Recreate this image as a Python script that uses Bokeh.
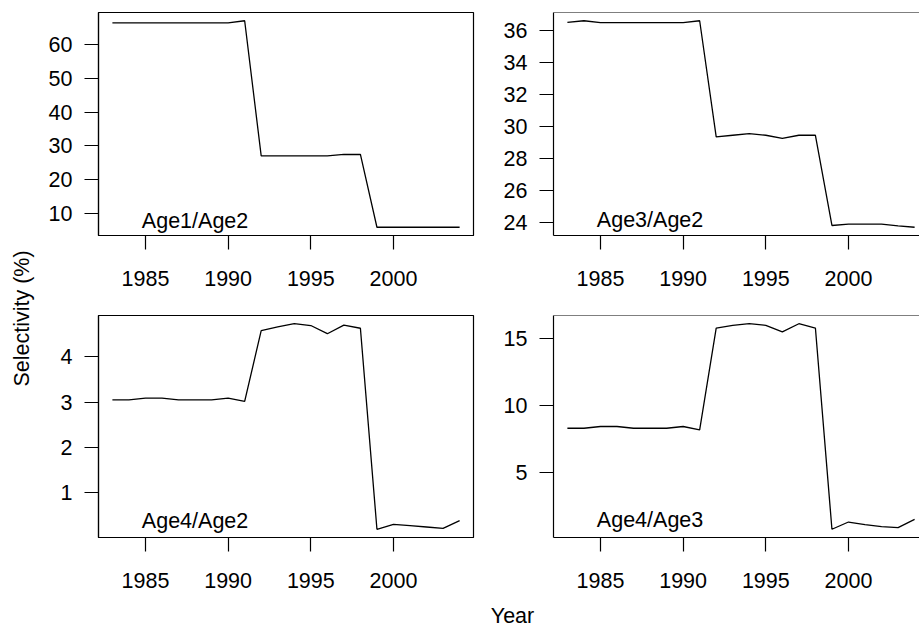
import math
from bokeh.plotting import figure
from bokeh.layouts import row, column
from bokeh.models import Range1d, FixedTicker, Label, Span
from bokeh.embed import file_html
from bokeh.resources import INLINE

# ---------------- data ----------------
years = [1983, 1984, 1985, 1986, 1987, 1988, 1989, 1990, 1991, 1992, 1993,
         1994, 1995, 1996, 1997, 1998, 1999, 2000, 2001, 2002, 2003, 2004]
age1_age2 = [66.3, 66.3, 66.3, 66.3, 66.3, 66.3, 66.3, 66.3, 66.9, 27.1, 27.1,
             27.1, 27.1, 27.1, 27.5, 27.5, 6.06, 6.06, 6.06, 6.06, 6.06, 6.06]
age3_age2 = [36.52, 36.62, 36.5, 36.5, 36.5, 36.5, 36.5, 36.5, 36.62, 29.35, 29.45,
             29.55, 29.45, 29.25, 29.45, 29.45, 23.8, 23.88, 23.88, 23.88, 23.78, 23.69]
age4_age2 = [3.05, 3.05, 3.09, 3.09, 3.05, 3.05, 3.05, 3.09, 3.02, 4.58, 4.66,
             4.73, 4.69, 4.51, 4.70, 4.63, 0.20, 0.31, 0.28, 0.25, 0.22, 0.39]
age4_age3 = [8.33, 8.33, 8.46, 8.46, 8.33, 8.33, 8.33, 8.46, 8.21, 15.79, 15.99,
             16.11, 15.99, 15.5, 16.11, 15.79, 0.81, 1.35, 1.15, 1.0, 0.93, 1.55]

panel_names = ["Age1/Age2", "Age3/Age2", "Age4/Age2", "Age4/Age3"]
x_ticks = [1985, 1990, 1995, 2000]
y_ticks_1 = [10, 20, 30, 40, 50, 60]
y_ticks_2 = [24, 26, 28, 30, 32, 34, 36]
y_ticks_3 = [1, 2, 3, 4]
y_ticks_4 = [5, 10, 15]
label_x = 1988
label_y = [8.0, 24.15, 0.38, 1.47]
y_title = "Selectivity (%)"
x_title = "Year"

FONT = "Liberation Sans"
FS = "21.5px"
LW = 1.2


def r_range(vals, frac=0.04):
    lo, hi = min(vals), max(vals)
    pad = (hi - lo) * frac
    return lo - pad, hi + pad


def make_panel(vals, yticks, name, ly, right_side, top_row):
    x0, x1 = r_range(years)
    full_w = 375
    if right_side:
        fw = 366
        x1 = x0 + (x1 - x0) * fw / full_w
        mbl, mbr = 75, 0
    else:
        fw = full_w
        mbl, mbr = 60, 5
    if top_row:
        fh, mbt, mbb = 223, 12, 75
    else:
        fh, mbt, mbb = 222, 5, 60
    y0, y1 = r_range(vals)
    p = figure(frame_width=fw, frame_height=fh,
               min_border_left=mbl, min_border_right=mbr,
               min_border_top=mbt, min_border_bottom=mbb,
               x_range=Range1d(x0, x1), y_range=Range1d(y0, y1),
               output_backend="svg", toolbar_location=None,
               background_fill_color="white", border_fill_color="white")
    p.grid.visible = False
    if right_side:
        p.outline_line_color = None
        p.add_layout(Span(location=y1, dimension="width", line_color="black",
                          line_width=LW))
    else:
        p.outline_line_color = "black"
        p.outline_line_width = LW
        p.outline_line_alpha = 1.0
    p.xaxis.ticker = FixedTicker(ticks=x_ticks)
    p.yaxis.ticker = FixedTicker(ticks=yticks)
    for ax in (p.xaxis[0], p.yaxis[0]):
        ax.major_tick_in = 0
        ax.major_tick_out = 14
        ax.minor_tick_line_color = None
        ax.major_tick_line_color = "black"
        ax.major_tick_line_width = LW
        ax.axis_line_color = "black"
        ax.axis_line_width = LW
        ax.major_label_text_font = FONT
        ax.major_label_text_font_size = FS
        ax.major_label_text_color = "black"
    p.xaxis.major_label_standoff = 21
    p.yaxis.major_label_standoff = 12
    p.line(years, vals, line_color="black", line_width=1.3)
    p.add_layout(Label(x=label_x, y=ly, text=name, text_align="center",
                       text_baseline="alphabetic", text_font=FONT,
                       text_font_size=FS, text_color="black"))
    return p


p1 = make_panel(age1_age2, y_ticks_1, panel_names[0], label_y[0], False, True)
p2 = make_panel(age3_age2, y_ticks_2, panel_names[1], label_y[1], True, True)
p3 = make_panel(age4_age2, y_ticks_3, panel_names[2], label_y[2], False, False)
p4 = make_panel(age4_age3, y_ticks_4, panel_names[3], label_y[3], True, False)

# outer y title
ylab = figure(width=38, height=633, x_range=Range1d(0, 38), y_range=Range1d(0, 633),
              min_border=0, x_axis_location=None, y_axis_location=None,
              output_backend="svg", toolbar_location=None,
              background_fill_color="white", border_fill_color="white")
ylab.grid.visible = False
ylab.outline_line_color = None
ylab.add_layout(Label(x=21.7, y=315, text=y_title, angle=math.pi / 2,
                      text_align="center", text_baseline="middle",
                      text_font=FONT, text_font_size=FS, text_color="black"))

# outer x title
xlab = figure(width=881, height=36, x_range=Range1d(0, 881), y_range=Range1d(0, 36),
              min_border=0, x_axis_location=None, y_axis_location=None,
              output_backend="svg", toolbar_location=None,
              background_fill_color="white", border_fill_color="white")
xlab.grid.visible = False
xlab.outline_line_color = None
xlab.add_layout(Label(x=474, y=18, text=x_title, text_align="center",
                      text_baseline="middle", text_font=FONT,
                      text_font_size=FS, text_color="black"))

layout = row(ylab, column(row(p1, p2), row(p3, p4), xlab))

open("out.html", "w").write(file_html(layout, INLINE))
